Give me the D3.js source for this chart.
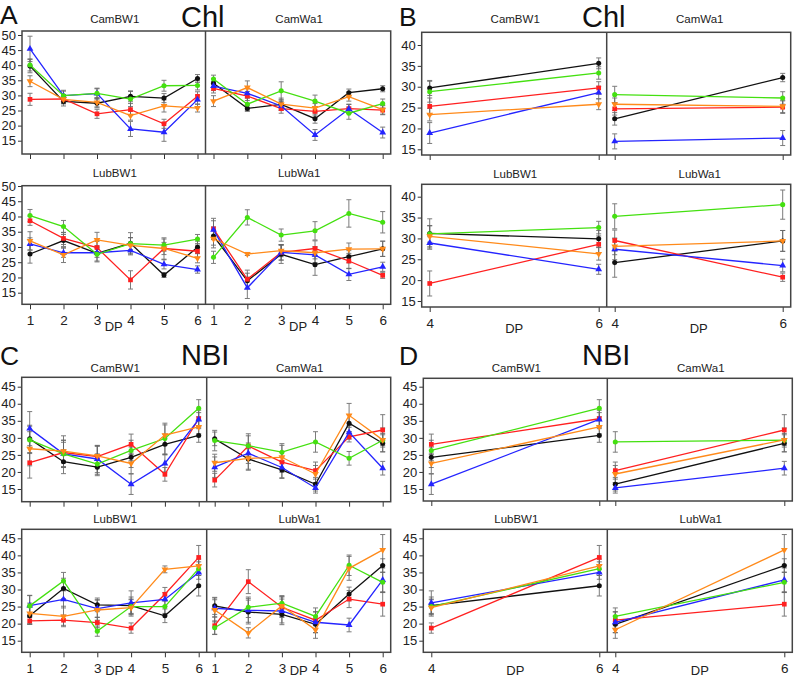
<!DOCTYPE html>
<html><head><meta charset="utf-8">
<script src="https://cdn.jsdelivr.net/npm/d3@7"></script>
<style>body{margin:0;background:#fff}svg{display:block}text{font-family:"Liberation Sans",Arial,sans-serif}</style>
</head><body><svg id="c" width="794" height="678"></svg>
<script>
// ---------- DATA ----------
const dpAll = [1, 2, 3, 4, 5, 6];
const dpSub = [4, 6];
const subIdx = [3, 5];
const seriesKeys = ["black", "red", "blue", "green", "orange"];
const chlTicks = [15, 20, 25, 30, 35, 40, 45, 50];
const chlSubTicks = [15, 20, 25, 30, 35, 40];
const nbiTicks = [15, 20, 25, 30, 35, 40, 45];
const subNames = ["CamBW1", "CamWa1", "LubBW1", "LubWa1"];

// Chl (order: black, red, blue, green, orange), DP 1..6
const chlCamBW1 = [
  [39.7, 28.0, 27.4, 29.7, 29.1, 35.6],
  [28.7, 28.8, 23.9, 25.3, 20.6, 29.7],
  [45.4, 29.9, 30.6, 18.9, 17.8, 28.6],
  [40.1, 29.9, 30.7, 28.8, 33.2, 33.3],
  [34.7, 28.7, 27.7, 23.3, 26.5, 25.8]
];
const chlCamWa1 = [
  [34.0, 25.7, 27.0, 22.3, 30.9, 32.2],
  [32.3, 29.8, 25.6, 24.7, 25.6, 25.1],
  [33.1, 30.7, 26.5, 16.9, 25.5, 17.7],
  [35.4, 27.1, 31.5, 28.1, 24.1, 27.3],
  [28.1, 32.6, 27.1, 25.8, 29.6, 25.3]
];
const chlLubBW1 = [
  [27.7, 32.1, 27.9, 31.2, 20.8, 29.9],
  [38.6, 32.8, 29.8, 19.2, 29.5, 28.6],
  [31.0, 28.1, 28.1, 28.9, 24.3, 22.6],
  [40.3, 36.7, 27.6, 31.1, 30.6, 32.6],
  [32.0, 27.4, 32.3, 30.5, 29.5, 26.3]
];
const chlLubWa1 = [
  [33.6, 18.9, 27.6, 24.2, 26.8, 29.4],
  [35.9, 19.4, 28.2, 29.5, 25.4, 20.7],
  [35.6, 16.6, 28.2, 27.4, 21.0, 23.5],
  [26.6, 39.7, 33.9, 35.3, 41.0, 38.1],
  [32.7, 27.7, 28.8, 28.1, 29.3, 29.4]
];
// Chl standard errors
const chlCamBW1Err = [
  [2.2, 1.5, 1.5, 1.8, 1.5, 1.3],
  [2.0, 1.5, 1.5, 2.0, 1.5, 1.5],
  [4.2, 1.5, 1.8, 2.5, 3.0, 1.5],
  [2.0, 1.8, 1.5, 2.5, 1.8, 1.5],
  [1.8, 1.5, 1.5, 1.5, 2.0, 1.3]
];
const chlCamWa1Err = [
  [1.5, 1.0, 1.5, 1.5, 1.2, 1.0],
  [1.5, 1.5, 1.5, 1.5, 1.5, 1.5],
  [1.5, 1.5, 1.5, 1.8, 1.5, 1.8],
  [1.3, 2.0, 3.0, 2.0, 2.0, 1.5],
  [1.8, 2.2, 2.0, 1.5, 1.5, 1.5]
];
const chlLubBW1Err = [
  [3.0, 2.0, 2.5, 3.5, 0.8, 2.0],
  [1.5, 2.0, 2.0, 3.0, 3.5, 2.0],
  [2.0, 1.5, 1.5, 1.5, 1.5, 1.2],
  [2.0, 2.0, 2.5, 2.0, 2.0, 1.5],
  [3.0, 2.5, 2.5, 2.5, 2.0, 1.5]
];
const chlLubWa1Err = [
  [3.0, 2.5, 3.0, 3.5, 2.0, 2.5],
  [3.5, 3.0, 2.5, 2.5, 2.5, 1.0],
  [3.0, 3.5, 2.5, 2.5, 2.0, 1.5],
  [2.0, 2.5, 2.0, 3.0, 4.5, 3.5],
  [3.0, 0.5, 2.0, 2.0, 2.0, 2.5]
];
// NBI
const nbiCamBW1 = [
  [29.7, 23.0, 21.4, 24.3, 28.1, 30.7],
  [22.7, 25.7, 24.5, 28.1, 19.3, 35.6],
  [32.7, 25.3, 23.8, 16.4, 22.5, 35.4],
  [29.4, 25.3, 22.3, 26.3, 29.8, 38.7],
  [26.8, 26.1, 24.7, 22.5, 30.8, 33.2]
];
const nbiCamWa1 = [
  [29.7, 23.8, 20.6, 16.4, 34.3, 28.4],
  [17.6, 27.6, 22.9, 20.4, 30.3, 32.3],
  [21.4, 25.5, 21.3, 15.3, 31.6, 21.1],
  [29.2, 27.7, 25.8, 28.8, 24.0, 29.3],
  [22.7, 24.0, 24.3, 19.4, 36.6, 29.4]
];
const nbiLubBW1 = [
  [22.3, 30.3, 25.5, 25.3, 22.3, 31.1],
  [20.8, 21.0, 20.3, 18.7, 28.6, 39.4],
  [25.3, 27.1, 24.4, 26.1, 27.1, 35.0],
  [25.2, 32.5, 17.8, 25.0, 25.0, 36.1],
  [23.0, 22.1, 24.0, 24.7, 35.9, 36.9]
];
const nbiLubWa1 = [
  [25.2, 23.4, 22.7, 19.8, 28.7, 37.0],
  [19.4, 32.3, 24.8, 21.0, 27.2, 25.7],
  [24.5, 23.9, 23.7, 20.4, 19.6, 32.8],
  [18.8, 24.8, 26.0, 22.1, 37.1, 32.1],
  [24.0, 17.3, 25.2, 18.2, 36.2, 41.6]
];
const nbiCamBW1Err = [
  [4.0, 3.5, 2.5, 3.0, 3.0, 2.0],
  [4.5, 3.0, 3.0, 3.0, 2.0, 2.5],
  [5.0, 4.0, 4.0, 3.0, 2.5, 2.0],
  [4.0, 4.0, 3.0, 3.0, 4.5, 2.5],
  [5.0, 4.5, 3.0, 3.0, 3.0, 2.0]
];
const nbiCamWa1Err = [
  [2.0, 3.0, 2.5, 2.0, 2.5, 2.5],
  [2.0, 3.0, 3.0, 2.5, 1.5, 4.5],
  [3.0, 3.0, 3.0, 1.5, 2.0, 2.0],
  [3.0, 3.5, 2.5, 3.0, 2.0, 2.0],
  [2.5, 3.5, 3.5, 2.5, 3.5, 3.5]
];
const nbiLubBW1Err = [
  [2.5, 3.0, 2.0, 2.5, 2.0, 3.0],
  [1.0, 1.5, 1.5, 1.5, 2.0, 3.5],
  [3.0, 2.5, 2.5, 3.5, 2.0, 2.0],
  [3.0, 2.5, 1.5, 2.0, 2.0, 2.0],
  [3.0, 3.0, 3.0, 2.5, 1.0, 2.0]
];
const nbiLubWa1Err = [
  [2.5, 3.5, 3.0, 2.5, 2.0, 2.0],
  [2.5, 3.5, 3.0, 2.5, 2.5, 3.5],
  [2.5, 3.5, 3.5, 3.0, 2.0, 3.5],
  [2.0, 3.0, 2.0, 2.5, 3.0, 3.0],
  [3.5, 1.5, 3.0, 2.5, 3.5, 4.5]
];

// ---------- STYLE / LAYOUT ----------
const seriesColors = ["#111111", "#ff2020", "#2424ff", "#44e010", "#ff8a1a"];
const drawOrder = [0, 1, 2, 3, 4];
const font = '"Liberation Sans", Arial, sans-serif';

const panels = [
  { letter: "A", title: "Chl", lx: 0, tx: 181, capY: 24, titleY: 26.5, x0: 22, div: 205.5, x1: 390.7, sub: false, dpY: 331,
    ticks: chlTicks, rows: [ { y0: 31, y1: 154, y15: 140.7, yT: 35, vT: 50, tY: 23 },
                             { y0: 185.7, y1: 304.3, y15: 292.7, yT: 186, vT: 50, tY: 177 } ],
    data: [[chlCamBW1, chlCamWa1], [chlLubBW1, chlLubWa1]],
    err: [[chlCamBW1Err, chlCamWa1Err], [chlLubBW1Err, chlLubWa1Err]] },
  { letter: "B", title: "Chl", lx: 399, tx: 582, capY: 25.5, titleY: 26.5, x0: 421.7, div: 606.7, x1: 790.7, sub: true, dpY: 332.5,
    ticks: chlSubTicks, rows: [ { y0: 32.3, y1: 155, y15: 149.3, yT: 45, vT: 40, tY: 23 },
                                { y0: 184.3, y1: 307, y15: 301, yT: 196.7, vT: 40, tY: 178 } ],
    data: [[chlCamBW1, chlCamWa1], [chlLubBW1, chlLubWa1]],
    err: [[chlCamBW1Err, chlCamWa1Err], [chlLubBW1Err, chlLubWa1Err]] },
  { letter: "C", title: "NBI", lx: 0, tx: 181, capY: 365, titleY: 365, x0: 21.7, div: 206.7, x1: 390.7, sub: false, dpY: 674.5,
    ticks: nbiTicks, rows: [ { y0: 377.3, y1: 501.7, y15: 489, yT: 386.7, vT: 45, tY: 371.5 },
                             { y0: 529.3, y1: 652.3, y15: 640.7, yT: 538.3, vT: 45, tY: 522.5 } ],
    data: [[nbiCamBW1, nbiCamWa1], [nbiLubBW1, nbiLubWa1]],
    err: [[nbiCamBW1Err, nbiCamWa1Err], [nbiLubBW1Err, nbiLubWa1Err]] },
  { letter: "D", title: "NBI", lx: 399, tx: 582, capY: 365, titleY: 365, x0: 423.3, div: 607.3, x1: 792.3, sub: true, dpY: 674.5,
    ticks: nbiTicks, rows: [ { y0: 378.3, y1: 501, y15: 489, yT: 386.7, vT: 45, tY: 371.5 },
                             { y0: 529.3, y1: 652.3, y15: 640.7, yT: 538.3, vT: 45, tY: 522.5 } ],
    data: [[nbiCamBW1, nbiCamWa1], [nbiLubBW1, nbiLubWa1]],
    err: [[nbiCamBW1Err, nbiCamWa1Err], [nbiLubBW1Err, nbiLubWa1Err]] }
];

const svg = d3.select("#c");
const pad = 8;

function markerPath(i) {
  if (i === 0 || i === 3) return d3.symbol(d3.symbolCircle, 20)();
  if (i === 1) return d3.symbol(d3.symbolSquare, 22)();
  return d3.symbol(d3.symbolTriangle, 20)();
}

panels.forEach(p => {
  svg.append("text").attr("x", p.lx).attr("y", p.capY).attr("font-size", 26.5).attr("fill", "#111").text(p.letter);
  svg.append("text").attr("x", p.tx).attr("y", p.titleY).attr("font-size", 29).attr("fill", "#111").text(p.title);
  const xsVals = p.sub ? dpSub : dpAll;
  p.rows.forEach((r, ri) => {
    const y = d3.scaleLinear().domain([15, r.vT]).range([r.y15, r.yT]);
    const g = svg.append("g");
    const ya = g.append("g").attr("transform", `translate(${p.x0},0)`)
      .call(d3.axisLeft(y).tickValues(p.ticks).tickSize(4).tickPadding(2).tickFormat(d3.format("d")));
    ya.select(".domain").remove();
    ya.selectAll("line").attr("stroke", "#333");
    ya.selectAll("text").attr("font-size", 13).attr("font-family", font).attr("fill", "#222");
    [[p.x0, p.div], [p.div, p.x1]].forEach((range, ci) => {
      const x = d3.scaleLinear().domain([xsVals[0], xsVals[xsVals.length - 1]]).range([range[0] + pad, range[1] - pad]);
      const xa = g.append("g").attr("transform", `translate(0,${r.y1})`)
        .call(d3.axisBottom(x).tickValues(xsVals).tickSize(5).tickPadding(6)
          .tickFormat(ri === 1 ? d3.format("d") : () => ""));
      xa.select(".domain").remove();
      xa.selectAll("line").attr("stroke", "#333");
      xa.selectAll("text").attr("font-size", 13.5).attr("font-family", font).attr("fill", "#222");
      if (ri === 1) {
        g.append("text").attr("x", (range[0] + range[1]) / 2).attr("y", p.dpY).attr("text-anchor", "middle")
          .attr("font-size", 13).attr("fill", "#222").text("DP");
      }
      g.append("text").attr("x", (range[0] + range[1]) / 2 + 1).attr("y", r.tY).attr("text-anchor", "middle")
        .attr("font-size", 11.5).attr("fill", "#222").text(subNames[ri * 2 + ci]);
      const vals = p.data[ri][ci];
      const errs = p.err[ri][ci];
      const pts = s => (p.sub ? subIdx : dpAll.map((d, i) => i)).map((k, j) => ({ x: xsVals[j], v: vals[s][k], e: errs[s][k] }));
      drawOrder.forEach(s => {
        const eg = g.append("g").attr("stroke", "#666").attr("stroke-width", 1).attr("opacity", 0.85);
        pts(s).forEach(d => {
          const cx = x(d.x);
          eg.append("line").attr("x1", cx).attr("x2", cx).attr("y1", y(d.v - d.e)).attr("y2", y(d.v + d.e));
          eg.append("line").attr("x1", cx - 2.5).attr("x2", cx + 2.5).attr("y1", y(d.v - d.e)).attr("y2", y(d.v - d.e));
          eg.append("line").attr("x1", cx - 2.5).attr("x2", cx + 2.5).attr("y1", y(d.v + d.e)).attr("y2", y(d.v + d.e));
        });
      });
      drawOrder.forEach(s => {
        const d = pts(s);
        g.append("path").datum(d).attr("fill", "none").attr("stroke", seriesColors[s]).attr("stroke-width", 1.3)
          .attr("d", d3.line().x(q => x(q.x)).y(q => y(q.v)));
        g.selectAll(null).data(d).enter().append("path")
          .attr("transform", q => `translate(${x(q.x)},${y(q.v)})` + (s === 4 ? " rotate(180)" : ""))
          .attr("d", markerPath(s)).attr("fill", seriesColors[s]);
      });
    });
    g.append("rect").attr("x", p.x0).attr("y", r.y0).attr("width", p.x1 - p.x0).attr("height", r.y1 - r.y0)
      .attr("fill", "none").attr("stroke", "#444").attr("stroke-width", 1.5);
    g.append("line").attr("x1", p.div).attr("x2", p.div).attr("y1", r.y0).attr("y2", r.y1)
      .attr("stroke", "#444").attr("stroke-width", 1.5);
  });
});
</script></body></html>
